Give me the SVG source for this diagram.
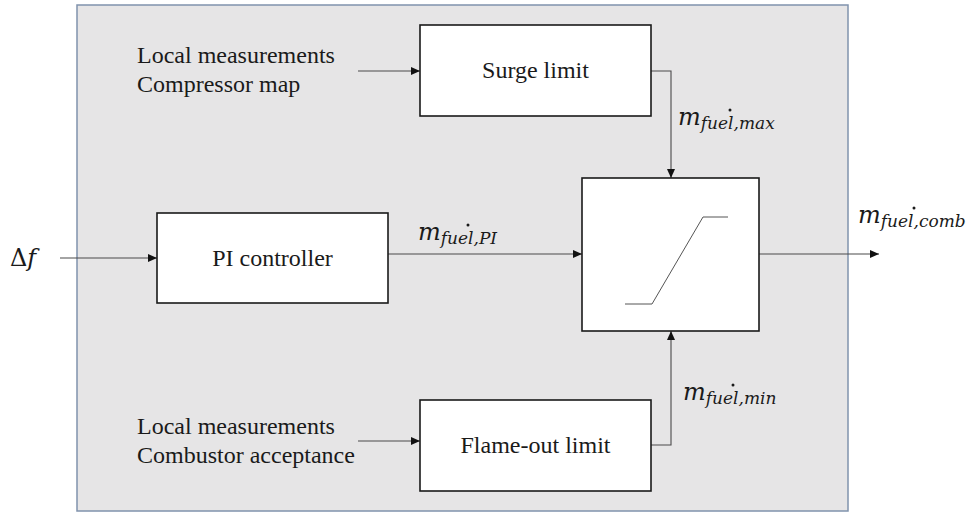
<svg xmlns="http://www.w3.org/2000/svg" width="972" height="516" viewBox="0 0 972 516">
<defs>
<style>
.bg{fill:#e6e5e6;stroke:#8093ad;stroke-width:1.5}
.box{fill:#ffffff;stroke:#1a1a1a;stroke-width:1.6}
.lbl{font-size:24px;fill:#1a1a1a}
.conn{fill:none;stroke:#4a4a4a;stroke-width:1.1}
.sym{fill:none;stroke:#555;stroke-width:1}
.m{font-style:italic;font-size:24px;fill:#1a1a1a}
.sub{font-size:17px}
.dot{fill:#1a1a1a}
.mid{text-anchor:middle}
</style>
<marker id="arr" markerWidth="10" markerHeight="8" refX="9" refY="4" orient="auto" markerUnits="userSpaceOnUse">
<path d="M0,0 L9,4 L0,8 z" fill="#111"/>
</marker>
</defs>
<rect x="0" y="0" width="972" height="516" fill="#ffffff"/>
<rect class="bg" x="77" y="5" width="771" height="506"/>

<g id="connectors">
<path class="conn" d="M60,258 H157" marker-end="url(#arr)"/>
<path class="conn" d="M358,71 H420" marker-end="url(#arr)"/>
<path class="conn" d="M651,71 H671 V178" marker-end="url(#arr)"/>
<path class="conn" d="M388,254 H582" marker-end="url(#arr)"/>
<path class="conn" d="M358,441 H420" marker-end="url(#arr)"/>
<path class="conn" d="M651,445 H671 V331" marker-end="url(#arr)"/>
<path class="conn" d="M759,254 H879" marker-end="url(#arr)"/>
</g>

<g id="input-surge" font-family="'Liberation Serif', 'Times New Roman', serif">
<text class="lbl" x="137" y="63">Local measurements</text>
<text class="lbl" x="137" y="92">Compressor map</text>
</g>
<g id="surge-limit" font-family="'Liberation Serif', 'Times New Roman', serif">
<rect class="box" x="420" y="25" width="231" height="91"/>
<text class="lbl mid" x="535.5" y="78">Surge limit</text>
</g>
<g id="delta-f" font-family="'DejaVu Serif', 'Liberation Serif', serif">
<text class="m" x="10" y="266"><tspan font-style="normal">Δ</tspan>f</text>
</g>
<g id="pi-controller" font-family="'Liberation Serif', 'Times New Roman', serif">
<rect class="box" x="157" y="213" width="231" height="90"/>
<text class="lbl mid" x="272.5" y="266">PI controller</text>
</g>
<g id="saturation">
<rect class="box" x="582" y="178" width="177" height="153"/>
<polyline class="sym" points="625,304 652,304 703,217 728,217"/>
</g>
<g id="input-flame" font-family="'Liberation Serif', 'Times New Roman', serif">
<text class="lbl" x="137" y="434">Local measurements</text>
<text class="lbl" x="137" y="463">Combustor acceptance</text>
</g>
<g id="flame-out-limit" font-family="'Liberation Serif', 'Times New Roman', serif">
<rect class="box" x="420" y="400" width="231" height="91"/>
<text class="lbl mid" x="535.5" y="453">Flame-out limit</text>
</g>

<g id="label-max" font-family="'DejaVu Serif', 'Liberation Serif', serif">
<text class="m" x="678" y="125">m<tspan class="sub" dy="4">fuel,max</tspan></text>
<circle class="dot" cx="730" cy="110" r="1.5"/>
</g>
<g id="label-pi" font-family="'DejaVu Serif', 'Liberation Serif', serif">
<text class="m" x="418" y="240">m<tspan class="sub" dy="4">fuel,PI</tspan></text>
<circle class="dot" cx="468" cy="225" r="1.5"/>
</g>
<g id="label-min" font-family="'DejaVu Serif', 'Liberation Serif', serif">
<text class="m" x="683" y="400">m<tspan class="sub" dy="4">fuel,min</tspan></text>
<circle class="dot" cx="733" cy="385" r="1.5"/>
</g>
<g id="label-comb" font-family="'DejaVu Serif', 'Liberation Serif', serif">
<text class="m" x="858" y="223">m<tspan class="sub" dy="4">fuel,comb</tspan></text>
<circle class="dot" cx="914" cy="208" r="1.5"/>
</g>
</svg>
